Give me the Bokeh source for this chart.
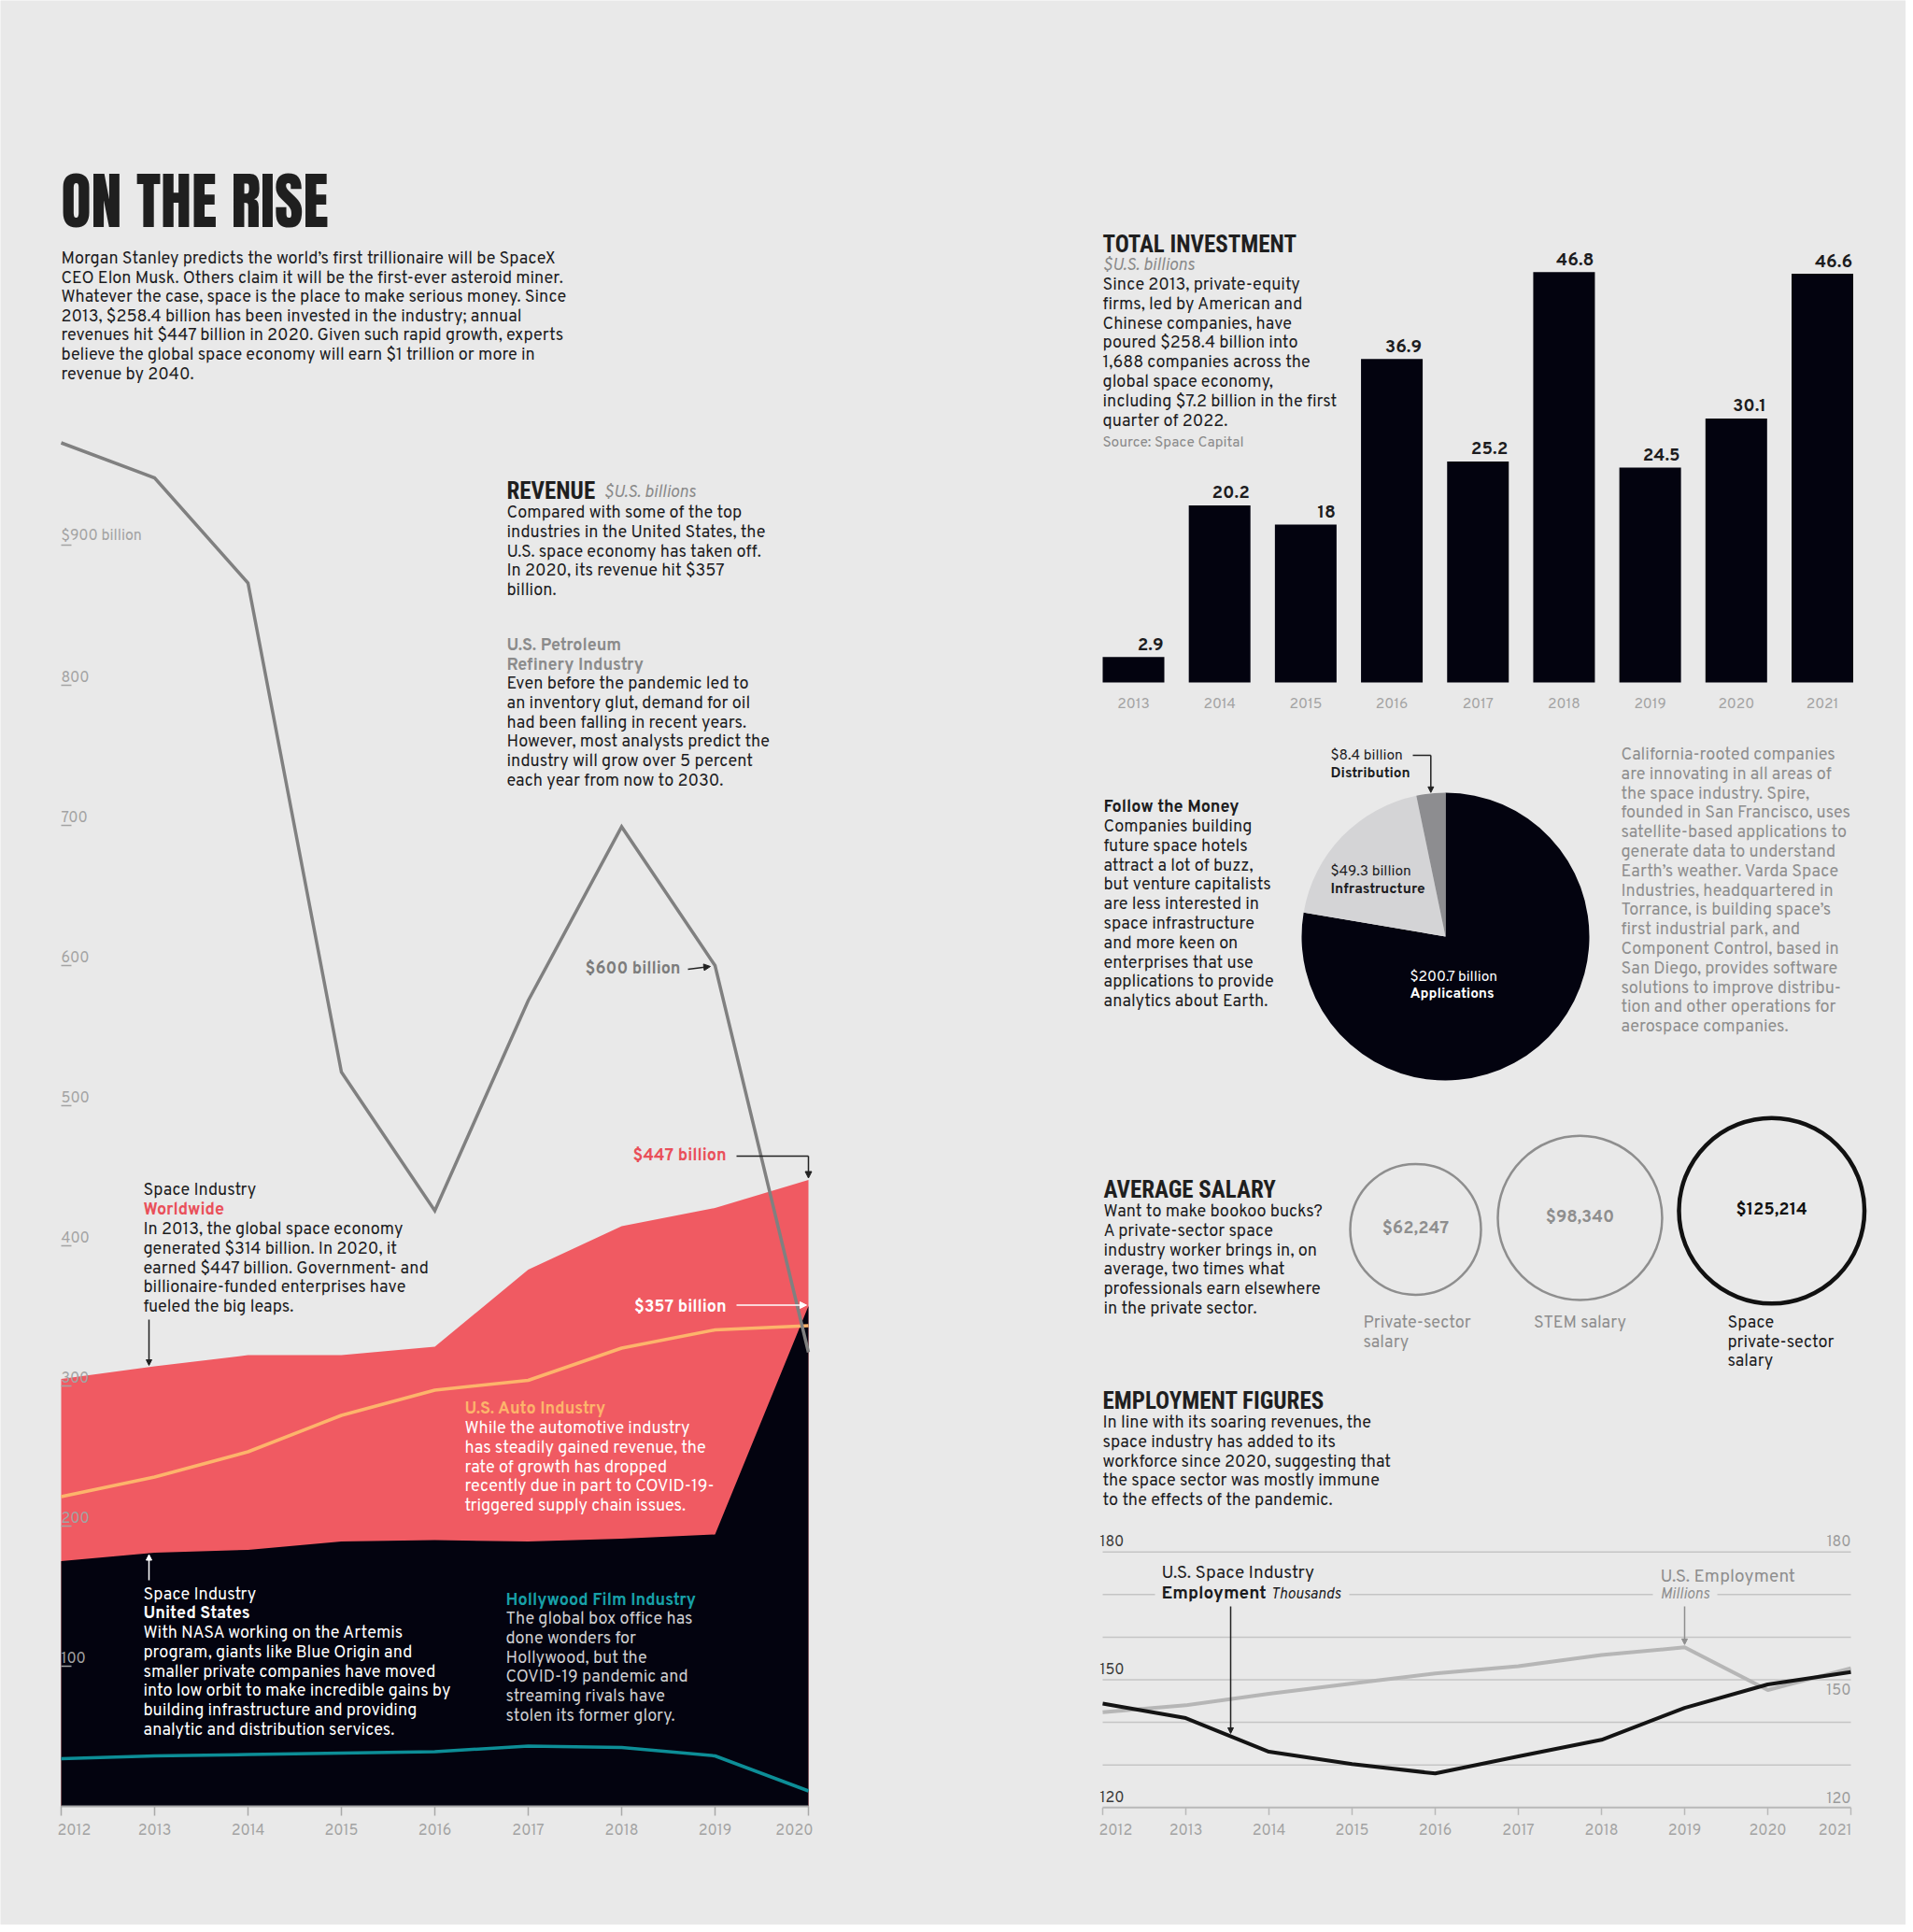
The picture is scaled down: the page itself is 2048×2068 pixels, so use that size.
import math
import numpy as np
from bokeh.plotting import figure
from bokeh.models import Range1d, Label, Arrow, NormalHead
from bokeh.embed import file_html
from bokeh.resources import INLINE
from bokeh.core.properties import value

# ---------------- data ----------------
rev_years = [2012, 2013, 2014, 2015, 2016, 2017, 2018, 2019, 2020]
petroleum = [973, 948, 873, 524, 425, 575, 699, 600, 324]
space_world = [305, 314, 322, 322, 328, 383, 414, 427, 447]
space_us = [175, 181, 183, 189, 190, 189, 191, 194, 357]
auto = [221, 235, 253, 279, 297, 304, 327, 340, 343]
hollywood = [34, 36, 37, 38, 39, 43, 42, 36, 11]
rev_ticks = [100, 200, 300, 400, 500, 600, 700, 800, 900]
rev_tick_labels = ["100", "200", "300", "400", "500", "600", "700", "800", "$900 billion"]

inv_years = [2013, 2014, 2015, 2016, 2017, 2018, 2019, 2020, 2021]
investment = [2.9, 20.2, 18, 36.9, 25.2, 46.8, 24.5, 30.1, 46.6]
inv_labels = ["2.9", "20.2", "18", "36.9", "25.2", "46.8", "24.5", "30.1", "46.6"]

pie_names = ["Applications", "Infrastructure", "Distribution"]
pie_values = [200.7, 49.3, 8.4]
pie_value_labels = ["$200.7 billion", "$49.3 billion", "$8.4 billion"]

salary_names = ["Private-sector salary", "STEM salary", "Space private-sector salary"]
salaries = [62247, 98340, 125214]
salary_labels = ["$62,247", "$98,340", "$125,214"]

emp_years = [2012, 2013, 2014, 2015, 2016, 2017, 2018, 2019, 2020, 2021]
space_emp = [144.4, 141.0, 133.1, 130.2, 128.0, 132.0, 135.9, 143.4, 148.9, 151.8]
us_emp = [142.4, 144.0, 146.7, 149.1, 151.5, 153.2, 155.8, 157.6, 147.6, 152.7]
emp_grid = [120, 130, 140, 150, 160, 170, 180]
emp_ticks = [120, 150, 180]

# ---------------- style ----------------
BG = "#e9e9e9"
DARK = "#1c1c1e"
NAVY = "#03030f"
RED = "#f05a62"
RED_TXT = "#e9505a"
ORANGE = "#fdb46b"
TEAL = "#0d8e97"
TEAL_TXT = "#17a0a8"
PETRO = "#808080"
GRAYTXT = "#8a8a8a"
AXIS = "#a3a3a3"
BODY = "Overpass, 'Encode Sans', Roboto, sans-serif"
TITLE = "Anton, Oswald, 'DejaVu Sans Condensed', sans-serif"
HEAD = "'Roboto Condensed', 'Archivo Narrow', 'Barlow Semi Condensed', sans-serif"
FS = 18  # body text size

W, H = 2040, 2060
X0, X1 = 0, W          # page coordinates (reference pixels)
Y0, Y1 = H, 0          # bottom, top

p = figure(width=W, height=H, output_backend="svg", toolbar_location=None, title=None,
           x_range=Range1d(X0, X1), y_range=Range1d(Y0, Y1), min_border=0,
           x_axis_type=None, y_axis_type=None)
p.outline_line_color = None
p.background_fill_color = BG
p.border_fill_color = BG

xr, yr = {}, {}


def add_ranges(name, xd0, xp0, xd1, xp1, yd0, yp0, yd1, yp1):
    fx = lambda r: xd0 + (r - xp0) * (xd1 - xd0) / (xp1 - xp0)
    fy = lambda r: yd0 + (r - yp0) * (yd1 - yd0) / (yp1 - yp0)
    xr[name] = Range1d(fx(X0), fx(X1))
    yr[name] = Range1d(fy(Y0), fy(Y1))
    px = lambda d: xp0 + (d - xd0) * (xp1 - xp0) / (xd1 - xd0)
    py = lambda d: yp0 + (d - yd0) * (yp1 - yp0) / (yd1 - yd0)
    return px, py


rev_px, rev_py = add_ranges("rev", 2012, 65, 2020, 865, 0, 1933, 100, 1783)
inv_px, inv_py = add_ranges("inv", 2013, 1213, 2021, 1950.5, 0, 730, 46.8, 290.7)
emp_px, emp_py = add_ranges("emp", 2012, 1180, 2021, 1981, 120, 1934.3, 180, 1660.7)
pie_px, pie_py = add_ranges("pie", 0, 1547, 1, 1548, 0, 1002, 1, 1001)
p.extra_x_ranges = xr
p.extra_y_ranges = yr

R = dict(x_range_name="rev", y_range_name="rev")
I = dict(x_range_name="inv", y_range_name="inv")
E = dict(x_range_name="emp", y_range_name="emp")


def T(x, y, s, size=FS, color=DARK, bold=False, italic=False, font=BODY, align="left", baseline="middle"):
    style = "bold italic" if (bold and italic) else "bold" if bold else "italic" if italic else "normal"
    p.add_layout(Label(x=x, y=y, text=s, text_font=font, text_font_size=f"{size}px",
                       text_font_style=style, text_color=color, text_align=align, text_baseline=baseline))


def P(x, y0, lines, dy=20.8, **kw):
    for i, l in enumerate(lines):
        T(x, y0 + i * dy, l, **kw)


def A(x0, y0, x1, y1, color, size=7, width=1.5):
    p.add_layout(Arrow(end=NormalHead(size=size, fill_color=color, line_color=color, line_width=1),
                       x_start=x0, y_start=y0, x_end=x1, y_end=y1, line_color=color, line_width=width))


def HDR(x, y, s):
    T(x, y, s, size=25, color="#1f1f1f", bold=True, font=HEAD)


# ================= left: title + revenue chart =================
T(65, 214.5, "ON THE RISE", size=66, color="#1f1f1f", font=TITLE)
P(65, 277, [
    "Morgan Stanley predicts the world\u2019s first trillionaire will be SpaceX",
    "CEO Elon Musk. Others claim it will be the first-ever asteroid miner.",
    "Whatever the case, space is the place to make serious money. Since",
    "2013, $258.4 billion has been invested in the industry; annual",
    "revenues hit $447 billion in 2020. Given such rapid growth, experts",
    "believe the global space economy will earn $1 trillion or more in",
    "revenue by 2040.",
], dy=20.6)

# areas and lines
p.varea(x=rev_years, y1=0, y2=space_world, fill_color=RED, **R)
p.varea(x=rev_years, y1=0, y2=space_us, fill_color=NAVY, **R)
p.line(rev_years, auto, line_color=ORANGE, line_width=3.5, **R)
p.line(rev_years, hollywood, line_color=TEAL, line_width=3.5, **R)
p.line(rev_years, petroleum, line_color=PETRO, line_width=3.5, line_join="miter", **R)

# x axis
tick_len = 10 / 1.5
p.segment(x0=[rev_years[0]], x1=[rev_years[-1]], y0=[0], y1=[0], line_color="#a9a9a9", line_width=2, **R)
p.segment(x0=rev_years, x1=rev_years, y0=[0] * 9, y1=[-tick_len] * 9, line_color="#a9a9a9", line_width=1.5, **R)
aligns = ["left"] + ["center"] * (len(rev_years) - 2) + ["right"]
offs = [-4] + [0] * (len(rev_years) - 2) + [5]
for yv, al, of in zip(rev_years, aligns, offs):
    T(rev_px(yv) + of, rev_py(0) + 24, str(yv), size=16, color=AXIS, align=al)

# y tick labels with small dashes
p.segment(x0=[2012] * 9, x1=[2012.11] * 9, y0=rev_ticks, y1=rev_ticks, line_color=AXIS, line_width=1.5, **R)
for v, lab in zip(rev_ticks, rev_tick_labels):
    T(65, rev_py(v) - 10, lab, size=16, color=AXIS)

# revenue text
HDR(542, 525, "REVENUE")
T(646, 527, "$U.S. billions", color=GRAYTXT, italic=True)
P(542, 549, ["Compared with some of the top", "industries in the United States, the",
             "U.S. space economy has taken off.", "In 2020, its revenue hit $357", "billion."])
P(542, 691, ["U.S. Petroleum", "Refinery Industry"], color="#8b8b8b", bold=True, dy=20.5)
P(542, 732, ["Even before the pandemic led to", "an inventory glut, demand for oil",
             "had been falling in recent years.", "However, most analysts predict the",
             "industry will grow over 5 percent", "each year from now to 2030."])

# value call-outs
T(728, 1037, "$600 billion", color="#7c7c7c", bold=True, align="right")
A(736, 1037, rev_px(2019) - 5, rev_py(petroleum[7]) + 1, "#222222")
T(777, 1237, "$447 billion", color=RED_TXT, bold=True, align="right")
p.segment(x0=[788], x1=[rev_px(2020)], y0=[1237], y1=[1237], line_color="#222222", line_width=1.5)
A(rev_px(2020), 1237, rev_px(2020), rev_py(space_world[-1]) - 2, "#222222")
T(777, 1399, "$357 billion", color="white", bold=True, align="right")
A(788, rev_py(space_us[-1]) - 1, rev_px(2020) - 2, rev_py(space_us[-1]) - 1, "white")

# worldwide block
T(153, 1274, "Space Industry")
T(153, 1295, "Worldwide", color=RED_TXT, bold=True)
P(153, 1316, ["In 2013, the global space economy", "generated $314 billion. In 2020, it",
              "earned $447 billion. Government- and", "billionaire-funded enterprises have",
              "fueled the big leaps."])
A(159, 1412, 159, rev_py(space_world[1]) - 1, "#222222", size=6)

# US block
A(159, 1691, 159, rev_py(space_us[1]) + 2, "white", size=6)
T(153, 1707, "Space Industry", color="white")
T(153, 1727, "United States", color="white", bold=True)
P(153, 1748, ["With NASA working on the Artemis", "program, giants like Blue Origin and",
              "smaller private companies have moved", "into low orbit to make incredible gains by",
              "building infrastructure and providing", "analytic and distribution services."],
  color="white")

# auto block
T(497, 1508, "U.S. Auto Industry", color=ORANGE, bold=True)
P(497, 1529, ["While the automotive industry", "has steadily gained revenue, the",
              "rate of growth has dropped", "recently due in part to COVID-19-",
              "triggered supply chain issues."], color="white")

# hollywood block
T(541, 1713, "Hollywood Film Industry", color=TEAL_TXT, bold=True)
P(541, 1733, ["The global box office has", "done wonders for", "Hollywood, but the",
              "COVID-19 pandemic and", "streaming rivals have", "stolen its former glory."],
  color="#cdcdd0")

# ================= right: total investment =================
HDR(1180, 261, "TOTAL INVESTMENT")
T(1180, 284, "$U.S. billions", color=GRAYTXT, italic=True)
P(1180, 305, ["Since 2013, private-equity", "firms, led by American and", "Chinese companies, have",
              "poured $258.4 billion into", "1,688 companies across the", "global space economy,",
              "including $7.2 billion in the first", "quarter of 2022."])
T(1180, 473, "Source: Space Capital", size=15.5, color=GRAYTXT)

BAR_W = 0.716
p.vbar(x=inv_years, top=investment, bottom=0, width=BAR_W, fill_color=NAVY, line_color=None, **I)
p.text(x=[y + BAR_W / 2 - 0.01 for y in inv_years], y=investment, text=inv_labels, text_align="right",
       text_baseline="middle", y_offset=-14, text_font=value(BODY), text_font_size="19px",
       text_font_style="bold", text_color=DARK, **I)
p.text(x=inv_years, y=[0] * len(inv_years), text=[str(y) for y in inv_years], text_align="center",
       text_baseline="middle", y_offset=22, text_font=value(BODY), text_font_size="15.5px",
       text_color=AXIS, **I)

# ================= pie =================
tot = sum(pie_values)
cum = np.concatenate([[0], np.cumsum(pie_values)]) / tot
starts = [math.pi / 2 - 2 * math.pi * c for c in cum[:-1]]
ends = [math.pi / 2 - 2 * math.pi * c for c in cum[1:]]
PIE_R = 154
p.wedge(x=[0] * 3, y=[0] * 3, radius=PIE_R, radius_units="screen", start_angle=starts, end_angle=ends,
        direction="clock", fill_color=[NAVY, "#d4d4d6", "#8d8d90"], line_color=None,
        x_range_name="pie", y_range_name="pie")
mid_d = (starts[2] + ends[2]) / 2
PL = 15.5
T(1424, 808, pie_value_labels[2], size=PL)
T(1424, 827, pie_names[2], size=PL, bold=True)
tipx = pie_px(math.cos(mid_d) * PIE_R)
p.segment(x0=[1512], x1=[tipx], y0=[808], y1=[808], line_color="#222222", line_width=1.5)
A(tipx, 808, tipx, pie_py(math.sin(mid_d) * PIE_R) - 1, "#222222", size=6)
T(1424, 932, pie_value_labels[1], size=PL)
T(1424, 951, pie_names[1], size=PL, bold=True)
T(1509, 1045, pie_value_labels[0], size=PL, color="white")
T(1509, 1063, pie_names[0], size=PL, color="white", bold=True)

T(1181, 864, "Follow the Money", bold=True)
P(1181, 885, ["Companies building", "future space hotels", "attract a lot of buzz,",
              "but venture capitalists", "are less interested in", "space infrastructure",
              "and more keen on", "enterprises that use", "applications to provide",
              "analytics about Earth."])
P(1735, 808, ["California-rooted companies", "are innovating in all areas of",
              "the space industry. Spire,", "founded in San Francisco, uses",
              "satellite-based applications to", "generate data to understand",
              "Earth\u2019s weather. Varda Space", "Industries, headquartered in",
              "Torrance, is building space\u2019s", "first industrial park, and",
              "Component Control, based in", "San Diego, provides software",
              "solutions to improve distribu-", "tion and other operations for",
              "aerospace companies."], color="#8e8e8e")

# ================= average salary =================
HDR(1181, 1273, "AVERAGE SALARY")
P(1181, 1297, ["Want to make bookoo bucks?", "A private-sector space", "industry worker brings in, on",
               "average, two times what", "professionals earn elsewhere", "in the private sector."])
k = 70 / math.sqrt(salaries[0])
radii = [k * math.sqrt(s) for s in salaries]
cx = [1515]
for i in range(1, 3):
    cx.append(cx[-1] + radii[i - 1] + 18 + radii[i])
cy = [1363 - 0.68 * r for r in radii]
p.circle(x=cx[:2], y=cy[:2], radius=radii[:2], radius_units="screen", fill_color=None,
         line_color="#8e8e8e", line_width=2.5)
p.circle(x=cx[2:], y=cy[2:], radius=radii[2:], radius_units="screen", fill_color=None,
         line_color="#111111", line_width=4.5)
T(cx[0], cy[0], salary_labels[0], size=18.5, color="#8e8e8e", bold=True, align="center")
T(cx[1], cy[1], salary_labels[1], size=18.5, color="#8e8e8e", bold=True, align="center")
T(cx[2], cy[2], salary_labels[2], size=18.5, color="#111111", bold=True, align="center")
P(1459, 1416, ["Private-sector", "salary"], color="#8e8e8e")
T(cx[1], 1416, "STEM salary", color="#8e8e8e", align="center")
P(1849, 1416, ["Space", "private-sector", "salary"], dy=20.5)

# ================= employment =================
HDR(1180, 1499, "EMPLOYMENT FIGURES")
P(1180, 1523, ["In line with its soaring revenues, the", "space industry has added to its",
               "workforce since 2020, suggesting that", "the space sector was mostly immune",
               "to the effects of the pandemic."])
GRID = "#c5c5c5"
full = [g for g in emp_grid if g not in (120, 170)]
p.segment(x0=[2012] * len(full), x1=[2021] * len(full), y0=full, y1=full, line_color=GRID, line_width=1.5, **E)
seg170 = [(1180, 1236), (1444, 1769), (1838, 1981)]
p.segment(x0=[a for a, b in seg170], x1=[b for a, b in seg170], y0=[170] * 3, y1=[170] * 3,
          line_color=GRID, line_width=1.5, y_range_name="emp")
p.segment(x0=[2012], x1=[2021], y0=[120], y1=[120], line_color="#b9b9b9", line_width=2, **E)
etl = 8 / 4.56
p.segment(x0=emp_years, x1=emp_years, y0=[120] * 10, y1=[120 - etl] * 10, line_color="#b9b9b9", line_width=1.5, **E)
aligns = ["left"] + ["center"] * 8 + ["right"]
offs = [-4] + [0] * 8 + [1]
for yv, al, of in zip(emp_years, aligns, offs):
    T(emp_px(yv) + of, emp_py(120) + 23, str(yv), size=16, color=AXIS, align=al)
for v in emp_ticks:
    T(emp_px(2012) - 3, emp_py(v) - 12, str(v), size=16, color="#3a3a3a")
for v, off in zip(emp_ticks, [-11, 10, -12]):
    T(emp_px(2021), emp_py(v) + off, str(v), size=16, color="#9b9b9b", align="right")

p.line(emp_years, us_emp, line_color="#b6b6b6", line_width=4, **E)
p.line(emp_years, space_emp, line_color="#141414", line_width=4, **E)

T(1243, 1683, "U.S. Space Industry", size=19)
T(1243, 1705, "Employment", size=19, bold=True)
T(1360, 1706, "Thousands", size=16, italic=True)
ax = 1317
ad = 2012 + (ax - 1180) / 89
A(ax, 1719, ax, emp_py(np.interp(ad, emp_years, space_emp)) - 3, "#222222", size=6)
T(1777, 1687, "U.S. Employment", size=19, color="#8e8e8e")
T(1777, 1706, "Millions", size=16, color="#8e8e8e", italic=True)
A(emp_px(2019), 1719, emp_px(2019), emp_py(us_emp[7]) - 3, "#8e8e8e", size=6)

html = file_html(p, INLINE)
html = html.replace("<body", f'<body style="background-color:{BG};"', 1)
open("out.html", "w").write(html)
